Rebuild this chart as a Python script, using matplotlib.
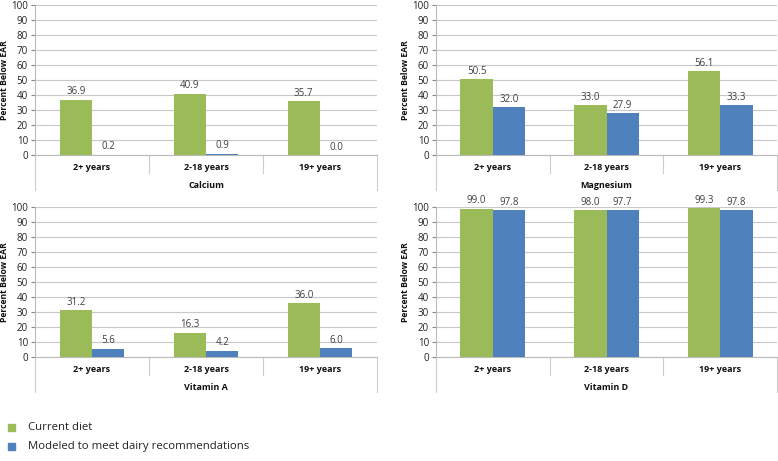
import matplotlib.pyplot as plt
import numpy as np
from matplotlib.patches import Rectangle

plt.rcParams['font.family'] = ['Open Sans', 'DejaVu Sans']

# -----------------------
# Data
# -----------------------
age_groups = ["2+ years", "2-18 years", "19+ years"]
nutrients = ["Calcium", "Magnesium", "Vitamin A", "Vitamin D"]

current_diet = {
    "Calcium": [36.9, 40.9, 35.7],
    "Magnesium": [50.5, 33.0, 56.1],
    "Vitamin A": [31.2, 16.3, 36.0],
    "Vitamin D": [99.0, 98.0, 99.3],
}
modeled_diet = {
    "Calcium": [0.2, 0.9, 0.0],
    "Magnesium": [32.0, 27.9, 33.3],
    "Vitamin A": [5.6, 4.2, 6.0],
    "Vitamin D": [97.8, 97.7, 97.8],
}

GREEN = "#9BBB59"
BLUE = "#4F81BD"
GRID = "#c8c8c8"
TEXT = "#404040"

W, H = 778, 461
fig = plt.figure(figsize=(W / 100, H / 100), dpi=100)

# panel boxes in pixels: (left, top, right, bottom)
boxes = {
    "Calcium": (35, 5, 377, 155),
    "Magnesium": (436, 5, 777, 155),
    "Vitamin A": (35, 207, 377, 357),
    "Vitamin D": (436, 207, 777, 357),
}

x = np.arange(len(age_groups))
bw = 0.285

for name in nutrients:
    l, t, r, b = boxes[name]
    ax = fig.add_axes([l / W, (H - b) / H, (r - l) / W, (b - t) / H])
    cur = current_diet[name]
    mod = modeled_diet[name]
    ax.bar(x - bw / 2, cur, width=bw, color=GREEN, zorder=3)
    ax.bar(x + bw / 2, mod, width=bw, color=BLUE, zorder=3)
    for xi, v in zip(x - bw / 2, cur):
        ax.text(xi, v + 1.5, f"{v:.1f}", ha="center", va="bottom",
                fontsize=7, color=TEXT)
    for xi, v in zip(x + bw / 2, mod):
        ax.text(xi, v + 1.5, f"{v:.1f}", ha="center", va="bottom",
                fontsize=7, color=TEXT)

    ax.set_xlim(-0.5, 2.5)
    ax.set_ylim(0, 100)
    ax.set_yticks(range(0, 101, 10))
    ax.tick_params(axis="y", labelsize=7, colors="#888888", length=3,
                   labelcolor="#222222", pad=2)
    ax.set_xticks([])
    ax.yaxis.grid(True, color=GRID, linewidth=0.8, zorder=0)
    for s in ["top", "right"]:
        ax.spines[s].set_visible(False)
    ax.spines["left"].set_color("#bbbbbb")
    ax.spines["bottom"].set_color("#bbbbbb")
    ax.set_ylabel("Percent Below EAR", fontsize=6.2, fontweight="bold",
                  color="#111111", va="center")
    ax.yaxis.set_label_coords(-30 / (r - l), 0.5)

    # multi-level category axis below the plot
    tr = ax.get_xaxis_transform()
    ph = b - t
    sep = -18 / ph
    outer = -35 / ph
    for xs in [0.5, 1.5]:
        ax.plot([xs, xs], [0, sep], transform=tr, color="#cccccc",
                linewidth=0.8, clip_on=False)
    for xs in [-0.5, 2.5]:
        ax.plot([xs, xs], [0, outer], transform=tr, color="#cccccc",
                linewidth=0.8, clip_on=False)
    for xi, lab in zip(x, age_groups):
        ax.text(xi, -12 / ph, lab, transform=tr, ha="center", va="center",
                fontsize=6.5, fontweight="bold", color="#111111")
    ax.text(1, -30 / ph, name, transform=tr, ha="center", va="center",
            fontsize=6.5, fontweight="bold", color="#111111")

# legend
legend_items = [("Current diet", GREEN, 427), ("Modeled to meet dairy recommendations", BLUE, 446)]
for label, col, yp in legend_items:
    fig.patches.append(Rectangle((8 / W, (H - yp - 3.5) / H), 7 / W, 7 / H,
                                 transform=fig.transFigure, color=col))
    fig.text(28 / W, (H - yp) / H, label, ha="left", va="center",
             fontsize=8.2, color="#222222")

fig.savefig("out.png", dpi=100)
